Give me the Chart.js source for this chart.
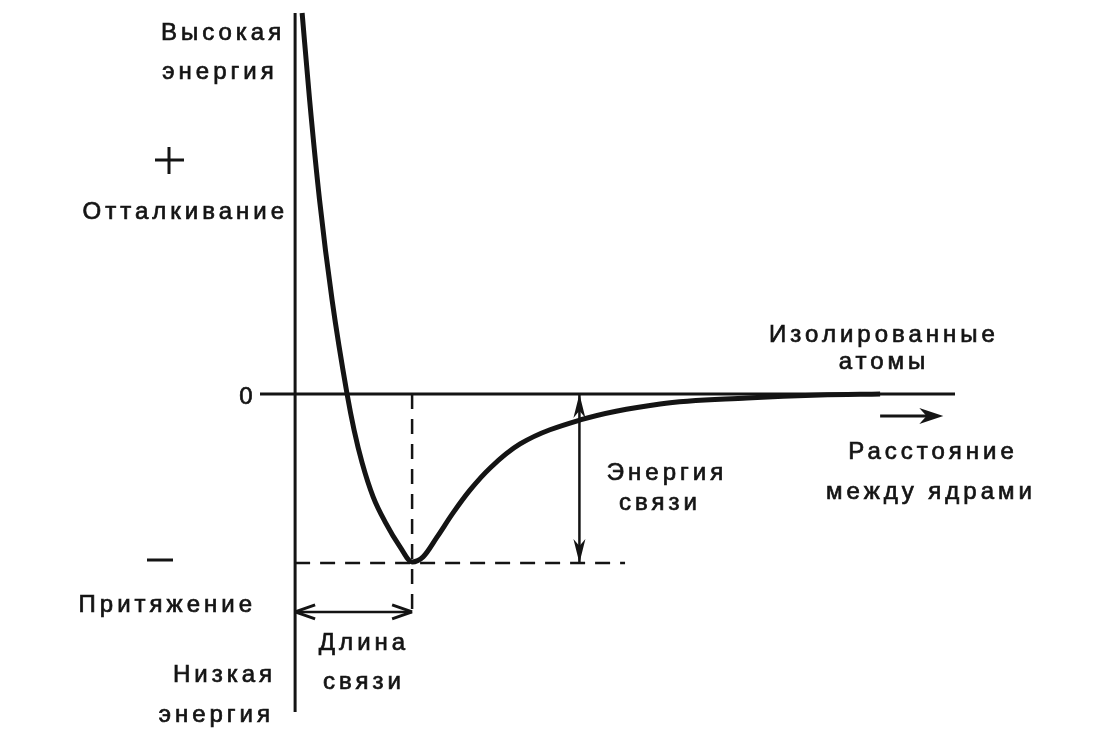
<!DOCTYPE html>
<html>
<head>
<meta charset="utf-8">
<script src="https://cdn.jsdelivr.net/npm/chart.js@4.4.1/dist/chart.umd.min.js"></script>
<style>
  html, body { margin: 0; padding: 0; background: #fff; }
  #wrap { width: 1093px; height: 750px; }
</style>
</head>
<body>
<div id="wrap"><canvas id="chart" width="1093" height="750"></canvas></div>
<script>
/* ---------- Data (r in bond lengths, E in bond energies) ---------- */
const curveR = [0.06, 0.124, 0.209, 0.316, 0.444, 0.504, 0.573, 0.667, 0.774, 0.897, 1.0,
                1.094, 1.214, 1.35, 1.496, 1.667, 1.923, 2.436, 3.12, 3.863, 4.487, 5.0];
const curveE = [2.254, 1.74, 1.148, 0.556, 0, -0.213, -0.408, -0.609, -0.763, -0.905, -0.994,
                -0.964, -0.846, -0.704, -0.568, -0.438, -0.296, -0.154, -0.059, -0.024, -0.006, 0];

const rRange = [-0.3, 5.64];      // x axis extent
const eRange = [-2.107, 2.331];   // y axis extent
const energyAxisSpan = [2.254, -1.882];   // drawn vertical axis
const bondLength = 1.0;
const bondEnergy = -1.0;
const bondEnergyR = 2.43;         // where the bond energy arrow sits
const bondLengthE = -1.29;        // where the bond length arrow sits
const dropLineEnd = -1.31;
const levelLineEnd = 2.82;
const distanceArrowR = [5.0, 5.54];
const distanceArrowE = -0.13;

/* ---------- Text (pixel layout) ---------- */
const labels = [
  { t: 'Высокая',       x: 221, y: 33,  a: 'center' },
  { t: 'энергия',       x: 218, y: 72,  a: 'center' },
  { t: 'Отталкивание',  x: 284, y: 212, a: 'right' },
  { t: '0',             x: 246, y: 397, a: 'center' },
  { t: 'Притяжение',    x: 252, y: 605, a: 'right' },
  { t: 'Низкая',        x: 272, y: 675, a: 'right' },
  { t: 'энергия',       x: 270, y: 715, a: 'right' },
  { t: 'Длина',         x: 362, y: 643, a: 'center' },
  { t: 'связи',         x: 362, y: 682, a: 'center' },
  { t: 'Изолированные', x: 882, y: 335, a: 'center' },
  { t: 'атомы',         x: 882, y: 362, a: 'center' },
  { t: 'Энергия',       x: 665, y: 473, a: 'center' },
  { t: 'связи',         x: 658, y: 503, a: 'center' },
  { t: 'Расстояние',    x: 931, y: 452, a: 'center' },
  { t: 'между ядрами',  x: 929, y: 492, a: 'center' }
];

const INK = '#141414';
const SPACING = 4;
const pts = (xs, ys) => xs.map((x, i) => ({ x, y: ys[i] }));
const seg = (x1, y1, x2, y2) => [{ x: x1, y: y1 }, { x: x2, y: y2 }];

function lineSet(data, width, dash) {
  return {
    data, showLine: true, borderColor: INK, borderWidth: width,
    borderDash: dash || [], pointRadius: 0, fill: false, clip: false, tension: 0
  };
}

/* ---------- Arrowheads + text ---------- */
function head(ctx, x, y, ang, len, half, filled) {
  ctx.save();
  ctx.translate(x, y);
  ctx.rotate(ang);
  ctx.beginPath();
  ctx.moveTo(0, 0);
  ctx.lineTo(-len, -half);
  if (filled) { ctx.lineTo(-len * 0.7, 0); }
  else { ctx.moveTo(0, 0); }
  ctx.lineTo(-len, half);
  if (filled) { ctx.closePath(); ctx.fill(); }
  else { ctx.lineWidth = 3; ctx.stroke(); }
  ctx.restore();
}

const decor = {
  id: 'decor',
  afterDraw(chart) {
    const { ctx, scales: { x, y } } = chart;
    ctx.save();
    ctx.fillStyle = INK;
    ctx.strokeStyle = INK;

    // bond energy double arrow
    const bx = x.getPixelForValue(bondEnergyR);
    head(ctx, bx, y.getPixelForValue(0), -Math.PI / 2, 24, 6, true);
    head(ctx, bx, y.getPixelForValue(bondEnergy), Math.PI / 2, 24, 6, true);

    // bond length double arrow
    const ly = y.getPixelForValue(bondLengthE);
    head(ctx, x.getPixelForValue(0), ly, Math.PI, 20, 7, false);
    head(ctx, x.getPixelForValue(bondLength), ly, 0, 20, 7, false);

    // distance arrow
    head(ctx, x.getPixelForValue(distanceArrowR[1]), y.getPixelForValue(distanceArrowE), 0, 24, 8, true);

    // plus / minus signs
    ctx.lineWidth = 3;
    ctx.beginPath();
    ctx.moveTo(155, 160); ctx.lineTo(184, 160);
    ctx.moveTo(169, 147); ctx.lineTo(169, 174);
    ctx.moveTo(147, 560); ctx.lineTo(173, 560);
    ctx.stroke();

    // labels
    ctx.font = '24px "Liberation Sans", Arial, sans-serif';
    ctx.letterSpacing = SPACING + 'px';
    ctx.textBaseline = 'middle';
    ctx.textAlign = 'left';
    ctx.lineWidth = 0.7;
    labels.forEach(l => {
      const w = ctx.measureText(l.t).width - SPACING;
      let sx = l.x;
      if (l.a === 'center') sx = l.x - w / 2;
      else if (l.a === 'right') sx = l.x - w;
      ctx.fillText(l.t, sx, l.y);
      ctx.strokeText(l.t, sx, l.y);
    });
    ctx.restore();
  }
};

new Chart(document.getElementById('chart'), {
  type: 'scatter',
  data: {
    datasets: [
      { ...lineSet(pts(curveR, curveE), 5), cubicInterpolationMode: 'monotone' },
      lineSet(seg(0, energyAxisSpan[0], 0, energyAxisSpan[1]), 3),
      lineSet(seg(rRange[0], 0, rRange[1], 0), 3),
      lineSet(seg(bondLength, 0, bondLength, dropLineEnd), 2.5, [15, 10]),
      lineSet(seg(0, bondEnergy, levelLineEnd, bondEnergy), 2.5, [15, 10]),
      lineSet(seg(bondEnergyR, 0, bondEnergyR, bondEnergy), 2.5),
      lineSet(seg(0, bondLengthE, bondLength, bondLengthE), 2.5),
      lineSet(seg(distanceArrowR[0], distanceArrowE, distanceArrowR[1] - 0.1, distanceArrowE), 3)
    ]
  },
  options: {
    responsive: false,
    animation: false,
    layout: { padding: { left: 260, right: 138, top: 0, bottom: 0 } },
    scales: {
      x: { type: 'linear', display: false, min: rRange[0], max: rRange[1] },
      y: { type: 'linear', display: false, min: eRange[0], max: eRange[1] }
    },
    plugins: { legend: { display: false }, tooltip: { enabled: false } }
  },
  plugins: [decor]
});
</script>
</body>
</html>
